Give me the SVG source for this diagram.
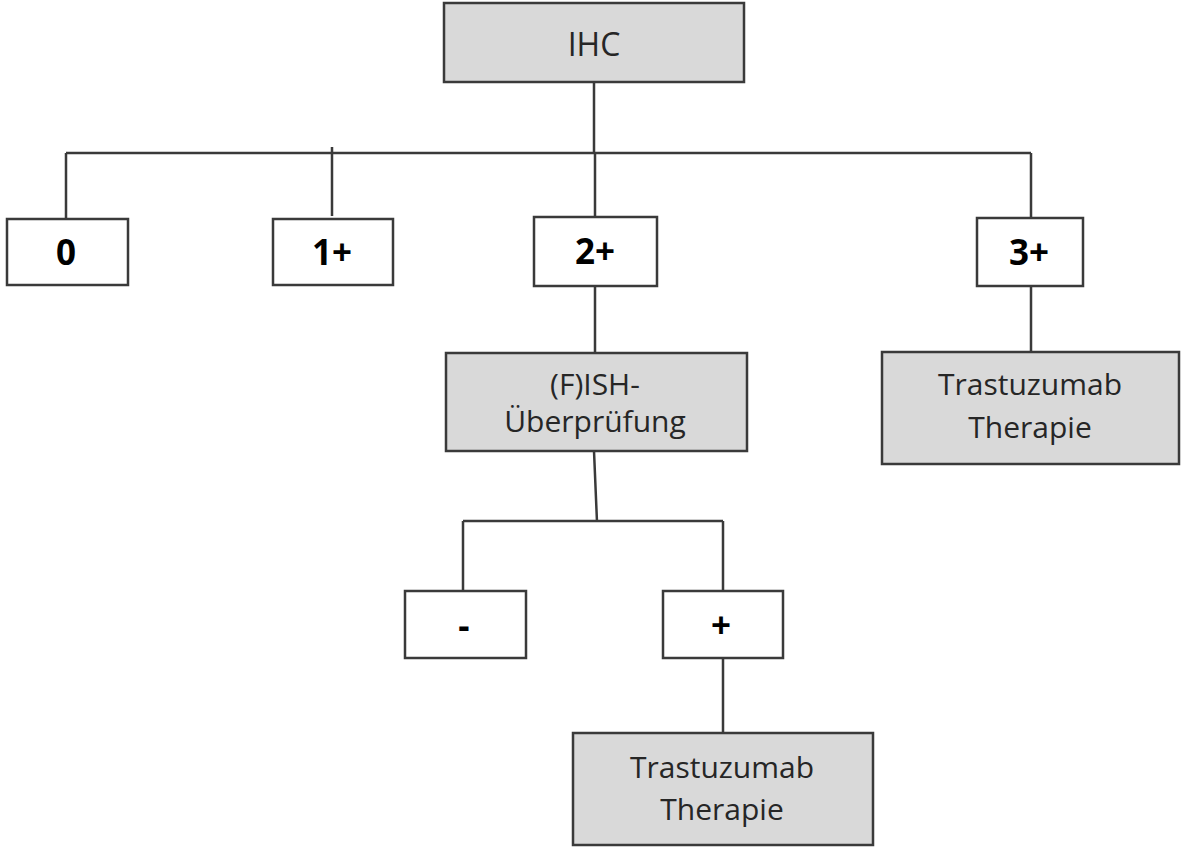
<svg xmlns="http://www.w3.org/2000/svg" width="1181" height="847" viewBox="0 0 1181 847">
<style>
.box{stroke:#3a3a3a;stroke-width:2.5}
.g{fill:#d9d9d9}
.w{fill:#ffffff}
.con{stroke:#3a3a3a;stroke-width:2.5;fill:none}
.t{font-family:"Open Sans","Liberation Sans",sans-serif;font-size:30px;fill:#262626;text-anchor:middle}
.b{font-family:"Open Sans","Liberation Sans",sans-serif;font-size:35px;font-weight:bold;fill:#000;text-anchor:middle}
</style>
<rect width="1181" height="847" fill="#ffffff"/>
<g id="connectors">
<path class="con" d="M594 82V153M66 153H1031M66 153V219M332 147V216M595 153V217M1031 153V218M595 286V353M1031 286V352M594 451L597 522M463 521H723M463 521V591M723 521V591M723 658V733"/>
</g>
<g id="ihc"><rect class="box g" x="444" y="3" width="300" height="79"/><text class="t" x="594" y="56" style="font-size:32px">IHC</text></g>
<g id="s0"><rect class="box w" x="7" y="219" width="121" height="66"/><text class="b" x="66" y="265">0</text></g>
<g id="s1"><rect class="box w" x="273" y="219" width="120" height="66"/><text class="b" x="332" y="265">1+</text></g>
<g id="s2"><rect class="box w" x="534" y="217" width="123" height="69"/><text class="b" x="595" y="264">2+</text></g>
<g id="s3"><rect class="box w" x="977" y="218" width="106" height="68"/><text class="b" x="1029" y="265">3+</text></g>
<g id="fish"><rect class="box g" x="446" y="353" width="301" height="98"/><text class="t" x="595" y="395">(F)ISH-</text><text class="t" x="595" y="432">Überprüfung</text></g>
<g id="tr1"><rect class="box g" x="882" y="352" width="297" height="112"/><text class="t" x="1030" y="395">Trastuzumab</text><text class="t" x="1030" y="438">Therapie</text></g>
<g id="neg"><rect class="box w" x="405" y="591" width="121" height="67"/><text class="b" x="464" y="638">-</text></g>
<g id="pos"><rect class="box w" x="663" y="591" width="120" height="67"/><text class="b" x="721" y="638">+</text></g>
<g id="tr2"><rect class="box g" x="573" y="733" width="300" height="112"/><text class="t" x="722" y="778">Trastuzumab</text><text class="t" x="722" y="820">Therapie</text></g>
</svg>
